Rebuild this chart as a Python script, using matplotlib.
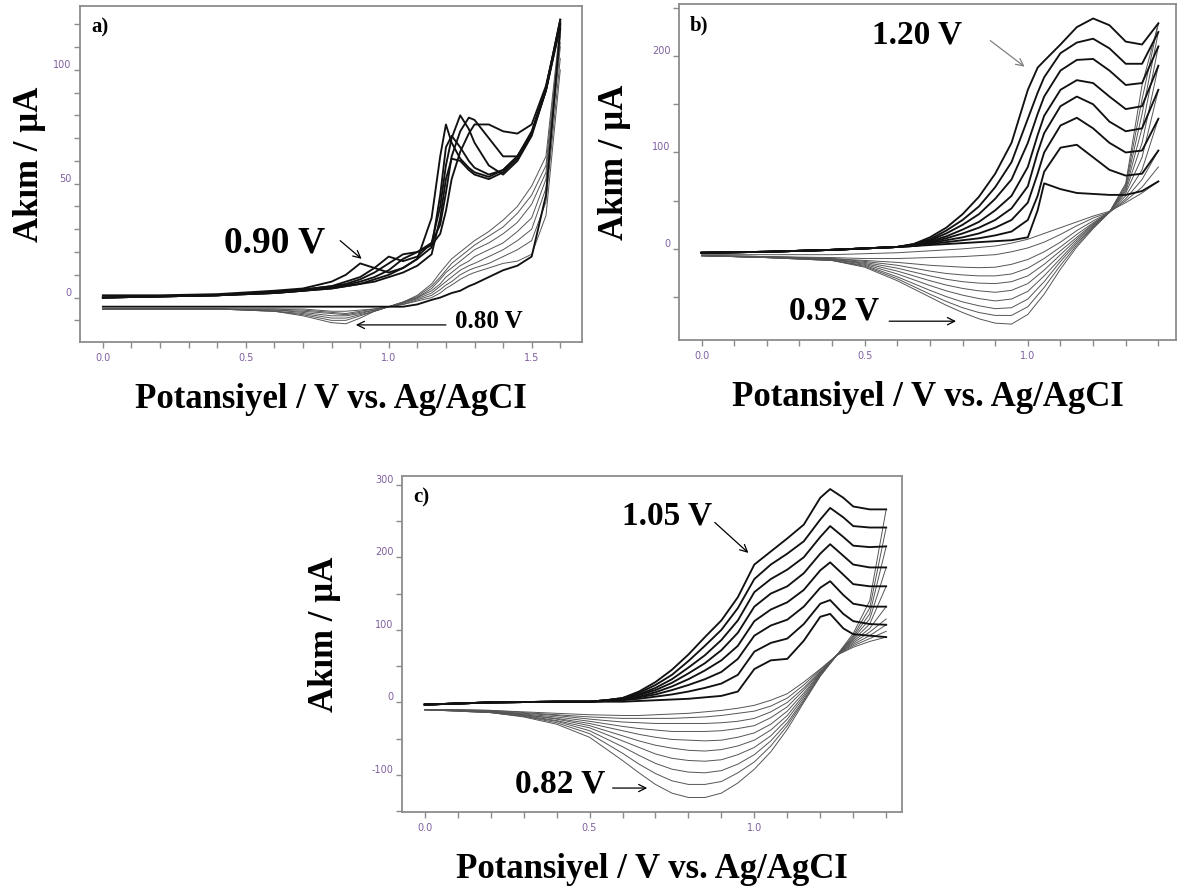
import numpy as np
import matplotlib
matplotlib.use('Agg')
import matplotlib.pyplot as plt
from matplotlib.ticker import FixedLocator, FuncFormatter

plt.rcParams['axes.unicode_minus'] = False

# ---------------- panel a ----------------
a_x = [0.0, 0.2, 0.4, 0.6, 0.7, 0.8, 0.85, 0.9, 0.95, 1.0, 1.05, 1.1, 1.15, 1.18,
       1.2, 1.22, 1.25, 1.28, 1.3, 1.35, 1.4, 1.45, 1.5, 1.55, 1.6]
# anodic scans (black)
a_fwd = [
    [-4, -4, -4, -4, -4, -4, -4, -4, -4, -4, -4, -3, -1, 0, 1, 2, 3, 5, 6, 9, 12, 14, 18, 45, 118],
    [1, 1, 1.5, 3, 4, 7, 10, 15, 13, 11, 13, 17, 35, 62, 76, 68, 61, 57, 55, 53, 56, 62, 73, 92, 122],
    [0, 0.5, 1, 2.5, 3.5, 5, 7, 9, 13, 18, 16, 18, 24, 40, 58, 70, 80, 74, 68, 58, 54, 60, 71, 91, 121],
    [0, 0.5, 1, 2.5, 3.5, 5, 6, 8, 11, 15, 19, 20, 24, 32, 46, 62, 73, 79, 78, 70, 62, 62, 72, 92, 122],
    [0, 0.5, 1, 2, 3, 4.5, 5.5, 7, 9, 12, 17, 20, 23, 28, 38, 52, 64, 72, 76, 76, 73, 72, 76, 93, 120],
    [0, 0.5, 1, 2, 3, 4, 5, 6, 8, 10, 13, 17, 22, 45, 66, 71, 66, 60, 57, 54, 56, 62, 72, 91, 120],
    [0, 0.5, 1, 2, 3, 4, 5, 6, 7, 9, 11, 14, 19, 35, 52, 61, 60, 56, 54, 52, 55, 61, 72, 91, 119],
]
# cathodic scans (grey)
a_rev = [
    [-5, -5, -5, -6, -8, -11, -11.5, -9, -6, -4, -2, 1, 6, 11, 14, 17, 20, 23, 25, 29, 34, 40, 49, 62, 120],
    [-5, -5, -5, -6, -7.5, -10, -10, -8, -6, -4, -2, 0.5, 5, 9, 12, 15, 18, 21, 23, 27, 31, 37, 45, 58, 118],
    [-5, -5, -5, -6, -7, -9, -9, -7.5, -6, -4, -2, 0, 4, 8, 11, 13, 16, 19, 21, 24, 28, 33, 41, 55, 115],
    [-5, -5, -5, -5.5, -6.5, -8, -8, -7, -5.5, -4, -2.5, 0, 3, 6, 9, 11, 14, 16, 18, 21, 24, 29, 35, 52, 112],
    [-5, -5, -5, -5.5, -6, -7, -7.5, -6.5, -5.5, -4, -2.5, -0.5, 2, 5, 7, 9, 12, 14, 15, 18, 21, 25, 30, 48, 110],
    [-5, -5, -5, -5, -5.5, -6.5, -7, -6, -5, -4, -3, -1, 1, 3.5, 5.5, 7, 10, 12, 13, 15, 18, 21, 25, 42, 105],
    [-5, -5, -5, -5, -5, -6, -6, -5.5, -5, -4, -3, -1.5, 0, 2, 4, 5.5, 8, 10, 11, 13, 15, 16, 19, 36, 100],
]

# ---------------- panel b ----------------
b_xf = [0.0, 0.2, 0.4, 0.6, 0.65, 0.7, 0.75, 0.8, 0.85, 0.9, 0.95, 1.0, 1.03, 1.05,
        1.1, 1.15, 1.2, 1.25, 1.3, 1.35, 1.4]
b_fwd = [
    [-4, -3, -1, 2, 3, 4, 5, 6, 7, 8, 9, 12, 40, 68, 62, 58, 57, 56, 56, 60, 70],
    [-4, -3, -1, 2, 3, 5, 7, 9, 11, 14, 18, 30, 55, 80, 105, 108, 95, 82, 76, 78, 102],
    [-4, -3, -1, 2, 3, 6, 9, 12, 16, 22, 30, 48, 78, 100, 128, 136, 125, 110, 100, 102, 135],
    [-4, -3, -1, 2, 4, 7, 11, 16, 22, 30, 42, 65, 100, 120, 148, 158, 150, 132, 122, 125, 165],
    [-4, -3, -1, 2, 4, 8, 13, 20, 28, 40, 55, 85, 118, 138, 165, 175, 172, 158, 145, 148, 190],
    [-4, -3, -1, 2, 4, 9, 16, 25, 36, 52, 72, 110, 140, 158, 185, 196, 197, 185, 170, 172, 210],
    [-4, -3, -1, 2, 5, 10, 19, 30, 44, 64, 90, 135, 162, 178, 203, 214, 218, 208, 192, 192, 225],
    [-4, -3, -1, 2, 5, 12, 22, 36, 54, 78, 110, 165, 188, 195, 212, 230, 239, 232, 215, 212, 234],
]
b_xr = [0.0, 0.2, 0.4, 0.5, 0.6, 0.65, 0.7, 0.75, 0.8, 0.85, 0.9, 0.95, 1.0, 1.05,
        1.1, 1.15, 1.2, 1.25, 1.3, 1.35, 1.4]
b_rev = [
    [-6, -6, -6, -5, -4, -3, -2, -1, 0, 1.5, 3, 6, 10, 16, 22, 28, 34, 39, 48, 58, 70],
    [-7, -8, -9, -10, -10, -9.5, -9, -8.5, -8, -7, -6, -3, 1, 7, 15, 24, 32, 38, 50, 64, 85],
    [-7, -8, -10, -12, -14, -15.5, -17, -18, -19, -19.5, -19, -16, -11, -3, 7, 19, 29, 38, 52, 72, 102],
    [-7, -8, -10, -13, -17, -20, -23, -25.5, -27, -28, -28, -26, -20, -10, 2, 15, 27, 38, 55, 82, 135],
    [-7, -8, -11, -14, -20, -24, -28, -31.5, -34, -35.5, -36, -34, -28, -16, -2, 12, 26, 38, 58, 95, 165],
    [-7, -9, -11, -15, -23, -28, -33, -37.5, -41, -43.5, -45, -43, -36, -22, -6, 10, 25, 38, 60, 110, 190],
    [-7, -9, -11, -16, -26, -32, -38, -43.5, -48, -51.5, -54, -52, -44, -28, -10, 8, 24, 38, 62, 125, 210],
    [-7, -9, -12, -17, -29, -36, -43, -49.5, -55, -59, -62, -61, -52, -34, -13, 6, 23, 38, 64, 140, 225],
    [-7, -9, -12, -18, -31, -39, -47, -54.5, -61, -66, -69, -69, -60, -40, -17, 4, 22, 38, 66, 155, 234],
    [-7, -9, -12, -19, -33, -41.5, -50, -58.5, -66, -72.5, -77, -78, -68, -47, -21, 2, 21, 38, 68, 170, 234],
]

# ---------------- panel c ----------------
c_xf = [0.0, 0.2, 0.4, 0.5, 0.55, 0.6, 0.65, 0.7, 0.75, 0.8, 0.85, 0.9, 0.95, 1.0,
        1.05, 1.1, 1.15, 1.2, 1.23, 1.27, 1.3, 1.35, 1.4]
c_fwd = [
    [-3, 0, 1, 1, 1, 1, 2, 3, 4, 5, 7, 9, 15, 46, 58, 60, 85, 118, 122, 102, 94, 92, 90],
    [-3, 0, 1, 1, 2, 3, 5, 8, 11, 15, 20, 26, 38, 70, 82, 88, 108, 136, 141, 122, 112, 108, 107],
    [-3, 0, 1, 1, 2, 4, 7, 11, 17, 24, 32, 42, 60, 92, 106, 114, 132, 158, 167, 148, 136, 132, 132],
    [-3, 0, 1, 1, 2, 4, 8, 14, 22, 32, 44, 58, 78, 112, 128, 138, 155, 182, 193, 176, 163, 160, 160],
    [-3, 0, 1, 1, 3, 5, 10, 17, 27, 40, 54, 72, 96, 132, 150, 160, 178, 205, 218, 202, 190, 186, 186],
    [-3, 0, 1, 1, 3, 5, 11, 20, 32, 48, 65, 86, 113, 152, 170, 183, 200, 228, 243, 228, 216, 214, 215],
    [-3, 0, 1, 1, 3, 6, 13, 24, 38, 57, 78, 100, 130, 170, 190, 205, 222, 252, 268, 255, 243, 241, 241],
    [-3, 0, 1, 1, 3, 6, 15, 28, 45, 66, 90, 113, 145, 190, 208, 226, 245, 282, 294, 282, 270, 266, 266],
]
c_xr = [0.0, 0.1, 0.2, 0.3, 0.4, 0.5, 0.6, 0.65, 0.7, 0.75, 0.8, 0.85, 0.9, 0.95,
        1.0, 1.05, 1.1, 1.15, 1.2, 1.25, 1.3, 1.35, 1.4]
c_rev = [
    [-10, -12, -14, -20, -30, -48, -80, -97, -113, -125, -131, -131, -125, -111, -92, -68, -37, 0, 36, 65, 95, 140, 266],
    [-10, -12, -14, -19, -28, -43, -70, -85, -98, -108, -113, -113, -109, -97, -82, -60, -32, 2, 37, 65, 92, 130, 241],
    [-10, -12, -14, -19, -26, -39, -61, -73, -84, -92, -96, -97, -94, -85, -72, -53, -28, 4, 38, 65, 90, 122, 215],
    [-10, -11, -13, -18, -25, -35, -53, -62, -71, -77, -80, -81, -79, -72, -62, -46, -23, 7, 39, 65, 88, 115, 186],
    [-10, -11, -13, -17, -23, -32, -46, -53, -59, -63, -66, -67, -65, -60, -52, -38, -18, 10, 40, 65, 86, 108, 160],
    [-10, -11, -13, -17, -22, -29, -39, -44, -48, -51, -52, -53, -52, -48, -42, -30, -12, 13, 41, 65, 84, 102, 132],
    [-10, -11, -12, -16, -20, -26, -33, -36, -38, -40, -40, -40, -39, -36, -32, -21, -6, 17, 42, 65, 82, 97, 115],
    [-10, -11, -12, -15, -18, -23, -27, -28, -29, -29, -29, -29, -28, -26, -22, -13, 0, 20, 43, 65, 80, 92, 107],
    [-10, -10, -11, -14, -17, -20, -22, -22, -22, -22, -21, -20, -18, -15, -12, -5, 6, 24, 45, 65, 78, 88, 98],
    [-10, -10, -11, -13, -15, -17, -18, -18, -17, -16, -15, -13, -11, -8, -4, 3, 12, 28, 46, 65, 76, 84, 90],
]

serif = 'Liberation Serif'
frame_col = '#8c8c8c'
tick_col = '#7f5f9f'


def draw_panel(ax, xf, fwd, xr, rev, xlim, ylim, xmaj, xmin, ymaj, ymin, tag, ylab_x):
    for y in rev:
        ax.plot(xr, y, color='#555555', lw=0.7)
    for y in fwd:
        ax.plot(xf, y, color='#111111', lw=1.35)
    ax.set_xlim(*xlim)
    ax.set_ylim(*ylim)
    for s in ax.spines.values():
        s.set_color(frame_col)
        s.set_linewidth(1.3)
    ax.xaxis.set_major_locator(FixedLocator(xmaj))
    ax.xaxis.set_minor_locator(FixedLocator(xmin))
    ax.yaxis.set_major_locator(FixedLocator(ymaj))
    ax.yaxis.set_minor_locator(FixedLocator(ymin))
    ax.xaxis.set_major_formatter(FuncFormatter(lambda v, p: '%.1f' % v))
    ax.yaxis.set_major_formatter(FuncFormatter(lambda v, p: '%g' % v))
    ax.tick_params(which='both', direction='out', color=frame_col, width=1,
                   length=4, labelcolor=tick_col, labelsize=7)
    ax.tick_params(axis='x', pad=4)
    ax.tick_params(axis='y', pad=2)
    ax.text(0.022, 0.965, tag, transform=ax.transAxes, ha='left', va='top',
            family=serif, weight='bold', fontsize=15)
    ax.text(0.5, -58 / 336, 'Potansiyel / V vs. Ag/AgCI', transform=ax.transAxes,
            ha='center', va='center', family=serif, weight='bold', fontsize=25)
    ax.text(ylab_x, 0.53, 'Akım / µA', transform=ax.transAxes, rotation=90,
            ha='center', va='center', family=serif, weight='bold', fontsize=25)


def arrow(ax, tail, tip, col='k'):
    ax.annotate('', xy=tip, xytext=tail,
                arrowprops=dict(arrowstyle='->', color=col, lw=0.9, mutation_scale=13,
                                shrinkA=0, shrinkB=0))


fig = plt.figure(figsize=(11.85, 8.91), dpi=100)
W, H = 1185.0, 891.0
ax_a = fig.add_axes([80 / W, 1 - 342 / H, 502 / W, 336 / H])
ax_b = fig.add_axes([679 / W, 1 - 340 / H, 497 / W, 336 / H])
ax_c = fig.add_axes([402 / W, 1 - 812 / H, 500 / W, 336 / H])

draw_panel(ax_a, a_x, a_fwd, a_x, a_rev, (-0.08, 1.676), (-19.5, 128),
           [0.0, 0.5, 1.0, 1.5], np.arange(0, 1.61, 0.1),
           [0, 50, 100], np.arange(-10, 121, 10), 'a)', -0.10)
draw_panel(ax_b, b_xf, b_fwd, b_xr, b_rev, (-0.069, 1.454), (-94.5, 254),
           [0.0, 0.5, 1.0], np.arange(0, 1.41, 0.1),
           [0, 100, 200], np.arange(-50, 251, 50), 'b)', -0.13)
draw_panel(ax_c, c_xf, c_fwd, c_xr, c_rev, (-0.069, 1.448), (-151, 312),
           [0.0, 0.5, 1.0], np.arange(0, 1.41, 0.1),
           [-100, 0, 100, 200, 300], np.arange(-150, 301, 50), 'c)', -0.155)

# annotations
ax_a.text(0.60, 24, '0.90 V', ha='center', va='center', family=serif, weight='bold', fontsize=27)
arrow(ax_a, (0.83, 25), (0.905, 17))
ax_a.text(1.35, -10.5, '0.80 V', ha='center', va='center', family=serif, weight='bold', fontsize=18)
arrow(ax_a, (1.2, -12), (0.885, -12))

ax_b.text(0.66, 222, '1.20 V', ha='center', va='center', family=serif, weight='bold', fontsize=24)
arrow(ax_b, (0.885, 216), (0.99, 189), col='#808080')
ax_b.text(0.405, -64, '0.92 V', ha='center', va='center', family=serif, weight='bold', fontsize=24)
arrow(ax_b, (0.575, -75), (0.78, -75))

ax_c.text(0.735, 257, '1.05 V', ha='center', va='center', family=serif, weight='bold', fontsize=24)
arrow(ax_c, (0.88, 248), (0.982, 206))
ax_c.text(0.41, -113, '0.82 V', ha='center', va='center', family=serif, weight='bold', fontsize=24)
arrow(ax_c, (0.57, -118), (0.675, -118))

# y tick labels sit on the tick like in the original
fig.canvas.draw()
for ax in (ax_a, ax_b, ax_c):
    for lab in ax.get_yticklabels():
        lab.set_va('bottom')

fig.savefig('out.png', dpi=100)
